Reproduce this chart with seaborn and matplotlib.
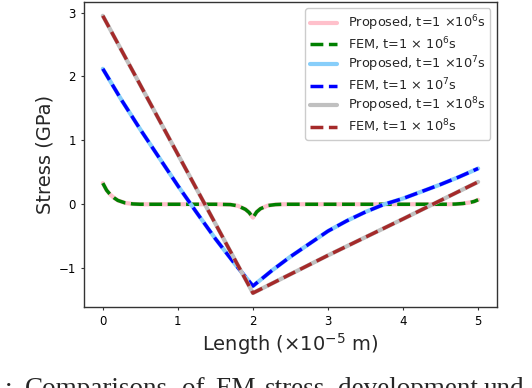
import numpy as np
import pandas as pd
import matplotlib
matplotlib.use("Agg")
import matplotlib.pyplot as plt
import seaborn as sns

# ---- data ----
x_t6 = [0.0, 0.05, 0.1, 0.15, 0.2, 0.3, 0.4, 0.5, 1.0, 1.5, 1.7, 1.8, 1.9, 1.95, 2.0,
        2.05, 2.1, 2.2, 2.3, 2.4, 3.0, 4.0, 4.6, 4.7, 4.8, 4.9, 4.95, 5.0]
s_t6 = [0.33, 0.22, 0.15, 0.10, 0.06, 0.02, 0.005, 0.0, 0.0, 0.0, -0.005, -0.025, -0.08, -0.13, -0.21,
        -0.12, -0.07, -0.02, -0.005, 0.0, 0.0, 0.0, 0.0, 0.003, 0.012, 0.03, 0.045, 0.07]

x_t7 = [0.0, 0.25, 0.5, 0.75, 1.0, 1.25, 1.5, 1.75, 2.0,
        2.25, 2.5, 2.75, 3.0, 3.25, 3.5, 3.75, 4.0, 4.25, 4.5, 4.75, 5.0]
s_t7 = [2.12, 1.63, 1.17, 0.73, 0.29, -0.13, -0.54, -0.92, -1.28,
        -1.04, -0.82, -0.62, -0.42, -0.26, -0.12, 0.0, 0.09, 0.2, 0.31, 0.43, 0.56]

x_t8 = [0.0, 1.0, 2.0, 3.0, 4.0, 5.0]
s_t8 = [2.95, 0.78, -1.39, -0.80, -0.23, 0.35]

labels_prop = [r"Proposed, t=1 $\times10^6$s", r"Proposed, t=1 $\times10^7$s", r"Proposed, t=1 $\times10^8$s"]
labels_fem = [r"FEM, t=1 $\times$ 10$^6$s", r"FEM, t=1 $\times$ 10$^7$s", r"FEM, t=1 $\times$ 10$^8$s"]
colors_prop = ["pink", "lightskyblue", "silver"]
colors_fem = ["green", "blue", "brown"]

xticks = [0, 1, 2, 3, 4, 5]
yticks = [-1, 0, 1, 2, 3]

caption_words = [":", "Comparisons", "of", "EM", "stress", "development", "und"]
caption_x = [5, 25, 182, 215, 265, 338, 484]

sns.set_style("white")
plt.rcParams['font.family'] = ['DejaVu Sans']

fig = plt.figure(figsize=(5.32, 3.88), dpi=100)
ax = fig.add_axes([0.158, 0.209, 0.776, 0.786])

series = [(x_t6, s_t6), (x_t7, s_t7), (x_t8, s_t8)]
for i, (xs, ys) in enumerate(series):
    df = pd.DataFrame({"x": xs, "y": ys})
    sns.lineplot(data=df, x="x", y="y", ax=ax, color=colors_prop[i], lw=3,
                 linestyle="-", label=labels_prop[i], estimator=None)
    sns.lineplot(data=df, x="x", y="y", ax=ax, color=colors_fem[i], lw=2.5,
                 linestyle="--", label=labels_fem[i], estimator=None)

ax.set_xticks(xticks)
ax.set_yticks(yticks)
ax.tick_params(axis='both', labelsize=8.5, length=2.5, width=0.8, direction='out',
               left=True, bottom=True, color='#333333', labelcolor='black')
ax.set_xlabel(r"Length ($\times10^{-5}$ m)", fontsize=14, labelpad=2)
ax.set_ylabel("Stress (GPa)", fontsize=14, labelpad=3)
for sp in ax.spines.values():
    sp.set_linewidth(1.0)
    sp.set_color('#333333')

ax.legend(loc='upper right', fontsize=9.3, frameon=True, fancybox=True,
          edgecolor='#cccccc', framealpha=1.0, borderaxespad=0.5,
          labelspacing=0.15, handlelength=2.1)

for w, px in zip(caption_words, caption_x):
    fig.text(px / 532, -0.02, w, fontsize=19.5, family=['Liberation Serif'],
             va='baseline', ha='left')

fig.savefig("out.png", dpi=100)
